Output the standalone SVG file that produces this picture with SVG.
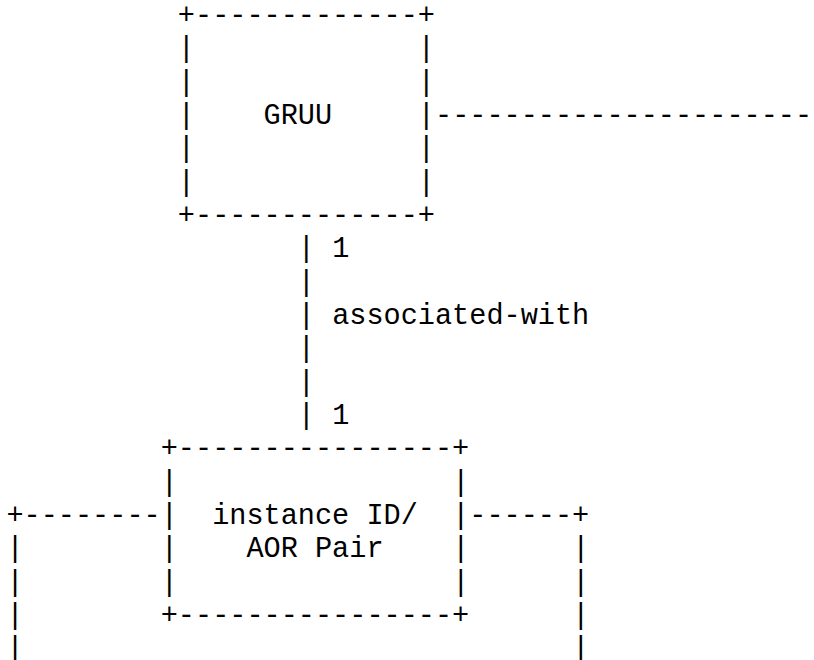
<svg xmlns="http://www.w3.org/2000/svg" width="814" height="660" viewBox="0 0 814 660">
<style>
text{font-family:"Liberation Mono","Courier New",monospace;font-size:28.57px;fill:#000;white-space:pre}
</style>
<rect width="814" height="660" fill="#fff"/>
<g id="gruu">
<text x="177.86" y="24">+-------------+</text>
<text x="177.86" y="57.33">|</text><text x="417.86" y="57.33">|</text>
<text x="177.86" y="90.67">|</text><text x="417.86" y="90.67">|</text>
<text x="177.86" y="124">|</text><text x="417.86" y="124">|</text>
<text x="177.86" y="157.33">|</text><text x="417.86" y="157.33">|</text>
<text x="177.86" y="190.67">|</text><text x="417.86" y="190.67">|</text>
<text x="177.86" y="224">+-------------+</text>
<text x="263.57" y="124">GRUU</text>
</g>
<g id="pair">
<text x="160.72" y="457.33">+----------------+</text>
<text x="160.72" y="490.67">|</text><text x="452.15" y="490.67">|</text>
<text x="160.72" y="524">|</text><text x="452.15" y="524">|</text>
<text x="160.72" y="557.33">|</text><text x="452.15" y="557.33">|</text>
<text x="160.72" y="590.67">|</text><text x="452.15" y="590.67">|</text>
<text x="160.72" y="624">+----------------+</text>
<text x="212.15" y="524">instance ID/</text>
<text x="246.43" y="557.33">AOR Pair</text>
</g>
<g id="connectors">
<text x="435" y="124">----------------------</text>
<text x="297.86" y="257.33">|</text><text x="332.15" y="257.33">1</text>
<text x="297.86" y="290.67">|</text>
<text x="297.86" y="324">|</text><text x="332.15" y="324">associated-with</text>
<text x="297.86" y="357.33">|</text>
<text x="297.86" y="390.67">|</text>
<text x="297.86" y="424">|</text><text x="332.15" y="424">1</text>
<text x="6.43" y="524">+--------</text>
<text x="6.43" y="557.33">|</text>
<text x="6.43" y="590.67">|</text>
<text x="6.43" y="624">|</text>
<text x="6.43" y="657.33">|</text>
<text x="469.29" y="524">------+</text>
<text x="572.15" y="557.33">|</text>
<text x="572.15" y="590.67">|</text>
<text x="572.15" y="624">|</text>
<text x="572.15" y="657.33">|</text>
</g>
</svg>
